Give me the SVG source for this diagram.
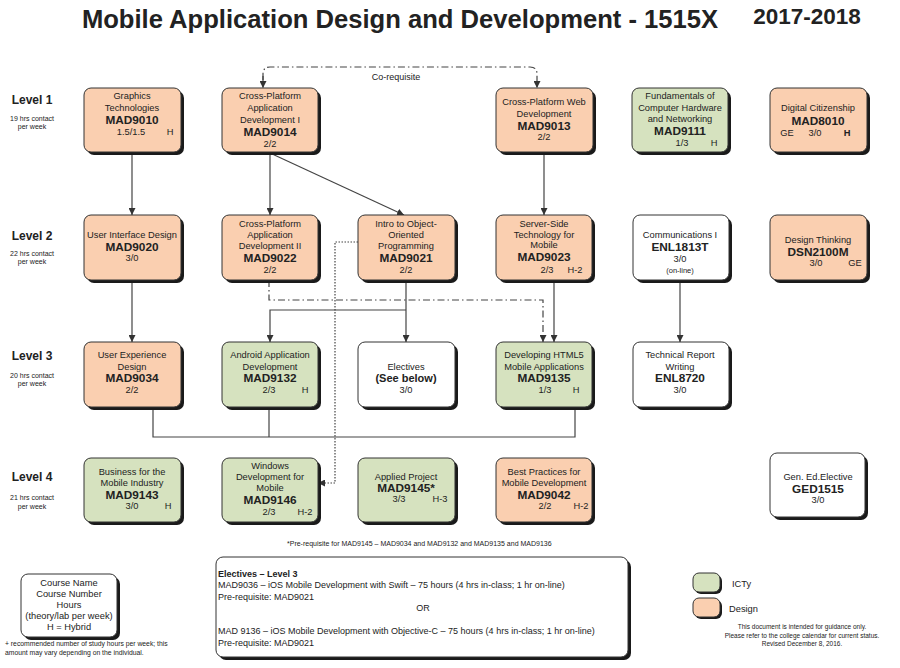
<svg xmlns="http://www.w3.org/2000/svg" width="900" height="668" viewBox="0 0 900 668">
<defs>
<marker id="ah" viewBox="0 0 8 8" refX="8" refY="4" markerWidth="7" markerHeight="7" markerUnits="userSpaceOnUse" orient="auto"><path d="M0,0 L8,4 L0,8 Z" fill="#333"/></marker>
</defs>
<style>
text{font-family:"Liberation Sans",Arial,sans-serif;fill:#222}
.t{font-size:9.3px;text-anchor:middle}
.b{font-size:11.8px;font-weight:bold;text-anchor:middle}
.s{font-size:7.5px;text-anchor:middle}
.lv{font-size:12px;font-weight:bold;text-anchor:middle}
.ls{font-size:7px;text-anchor:middle}
.sh{fill:#1a1a1a}
.box{stroke:#333;stroke-width:1}
.d{fill:#FACFB0}
.g{fill:#D6E2BF}
.w{fill:#fff}
.c{fill:none;stroke:#444;stroke-width:1.2}
.dd{stroke-dasharray:7,3,1.5,3}
.dt{stroke-dasharray:1.5,1.5}
</style>
<rect width="900" height="668" fill="#fff"/>
<text x="400" y="28" style="font-size:25.6px;font-weight:bold;text-anchor:middle">Mobile Application Design and Development - 1515X</text>
<text x="807" y="24" style="font-size:22.5px;font-weight:bold;text-anchor:middle">2017-2018</text>

<g id="levels">
<text class="lv" x="32" y="104">Level 1</text><text class="ls" x="32" y="121">19 hrs contact</text><text class="ls" x="32" y="129">per week</text>
<text class="lv" x="32" y="240">Level 2</text><text class="ls" x="32" y="256">22 hrs contact</text><text class="ls" x="32" y="264">per week</text>
<text class="lv" x="32" y="360">Level 3</text><text class="ls" x="32" y="378">20 hrs contact</text><text class="ls" x="32" y="386">per week</text>
<text class="lv" x="32" y="481">Level 4</text><text class="ls" x="32" y="500">21 hrs contact</text><text class="ls" x="32" y="509">per week</text>
</g>

<g id="connectors">
<path class="c" marker-end="url(#ah)" d="M132,153 V215"/>
<path class="c" marker-end="url(#ah)" d="M270,153 V215"/>
<path class="c" marker-end="url(#ah)" d="M270,153 L404,215"/>
<path class="c" marker-end="url(#ah)" d="M544,153 V215"/>
<path class="c" marker-end="url(#ah)" d="M132,280 V342"/>
<path class="c" marker-end="url(#ah)" d="M406,280 V342"/>
<path class="c" marker-end="url(#ah)" d="M406,310 H270 V342"/>
<path class="c" marker-end="url(#ah)" d="M554,280 V342"/>
<path class="c" marker-end="url(#ah)" d="M680,280 V342"/>
<path class="c" d="M153,407 V437 H575 V407 M269,407 V437"/>
<path class="c dd" marker-end="url(#ah)" d="M263,80 V74 Q263,67 270,67 H530 Q537,67 537,74 V88"/>
<path class="c dd" marker-end="url(#ah)" d="M263,76 V88"/>
<path class="c dd" marker-end="url(#ah)" d="M269,280 V300 H543 V342"/>
<path class="c dt" marker-end="url(#ah)" d="M358,242 H335 V483 H318"/>
<text x="396" y="80" style="font-size:9px;text-anchor:middle">Co-requisite</text>
</g>

<g id="MAD9010"><rect class="sh" x="87" y="91" width="97" height="64" rx="7"/><rect class="box d" x="84" y="88" width="97" height="64" rx="7"/>
<text class="t" x="132" y="99">Graphics</text><text class="t" x="132" y="111">Technologies</text><text class="b" x="132" y="124">MAD9010</text><text class="t" x="131" y="135">1.5/1.5</text><text class="t" x="170" y="135">H</text></g>

<g id="MAD9014"><rect class="sh" x="225" y="91" width="96" height="64" rx="7"/><rect class="box d" x="222" y="88" width="96" height="64" rx="7"/>
<text class="t" x="270" y="99">Cross-Platform</text><text class="t" x="270" y="111">Application</text><text class="t" x="270" y="123">Development I</text><text class="b" x="270" y="136">MAD9014</text><text class="t" x="270" y="147">2/2</text></g>

<g id="MAD9013"><rect class="sh" x="499" y="91" width="97" height="64" rx="7"/><rect class="box d" x="496" y="88" width="97" height="64" rx="7"/>
<text class="t" x="544" y="105">Cross-Platform Web</text><text class="t" x="544" y="117">Development</text><text class="b" x="544" y="130">MAD9013</text><text class="t" x="544" y="140">2/2</text></g>

<g id="MAD9111"><rect class="sh" x="635" y="91" width="96" height="64" rx="7"/><rect class="box g" x="632" y="88" width="96" height="64" rx="7"/>
<text class="t" x="680" y="99">Fundamentals of</text><text class="t" x="680" y="111">Computer Hardware</text><text class="t" x="680" y="122">and Networking</text><text class="b" x="680" y="135">MAD9111</text><text class="t" x="682" y="146">1/3</text><text class="t" x="714" y="146">H</text></g>

<g id="MAD8010"><rect class="sh" x="773" y="91" width="97" height="64" rx="7"/><rect class="box d" x="770" y="88" width="97" height="64" rx="7"/>
<text class="t" x="818" y="111">Digital Citizenship</text><text class="b" x="818" y="125">MAD8010</text><text class="t" x="787" y="136">GE</text><text class="t" x="815" y="136">3/0</text><text class="t" x="847" y="136" style="font-weight:bold">H</text></g>

<g id="MAD9020"><rect class="sh" x="87" y="218" width="97" height="65" rx="7"/><rect class="box d" x="84" y="215" width="97" height="65" rx="7"/>
<text class="t" x="132" y="238">User Interface Design</text><text class="b" x="132" y="251">MAD9020</text><text class="t" x="132" y="261">3/0</text></g>

<g id="MAD9022"><rect class="sh" x="225" y="218" width="96" height="65" rx="7"/><rect class="box d" x="222" y="215" width="96" height="65" rx="7"/>
<text class="t" x="270" y="227">Cross-Platform</text><text class="t" x="270" y="238">Application</text><text class="t" x="270" y="249">Development II</text><text class="b" x="270" y="262">MAD9022</text><text class="t" x="270" y="273">2/2</text></g>

<g id="MAD9021"><rect class="sh" x="361" y="218" width="97" height="65" rx="7"/><rect class="box d" x="358" y="215" width="97" height="65" rx="7"/>
<text class="t" x="406" y="227">Intro to Object-</text><text class="t" x="406" y="238">Oriented</text><text class="t" x="406" y="249">Programming</text><text class="b" x="406" y="262">MAD9021</text><text class="t" x="406" y="273">2/2</text></g>

<g id="MAD9023"><rect class="sh" x="499" y="218" width="96" height="65" rx="7"/><rect class="box d" x="496" y="215" width="96" height="65" rx="7"/>
<text class="t" x="544" y="227">Server-Side</text><text class="t" x="544" y="238">Technology for</text><text class="t" x="544" y="248">Mobile</text><text class="b" x="544" y="261">MAD9023</text><text class="t" x="547" y="273">2/3</text><text class="t" x="575" y="273">H-2</text></g>

<g id="ENL1813T"><rect class="sh" x="636" y="218" width="96" height="65" rx="7"/><rect class="box w" x="633" y="215" width="96" height="65" rx="7"/>
<text class="t" x="680" y="238">Communications I</text><text class="b" x="680" y="251">ENL1813T</text><text class="t" x="680" y="262">3/0</text><text class="s" x="680" y="273">(on-line)</text></g>

<g id="DSN2100M"><rect class="sh" x="773" y="218" width="97" height="65" rx="7"/><rect class="box d" x="770" y="215" width="97" height="65" rx="7"/>
<text class="t" x="818" y="243">Design Thinking</text><text class="b" x="818" y="256">DSN2100M</text><text class="t" x="816" y="266">3/0</text><text class="t" x="855" y="266">GE</text></g>

<g id="MAD9034"><rect class="sh" x="87" y="345" width="97" height="65" rx="7"/><rect class="box d" x="84" y="342" width="97" height="65" rx="7"/>
<text class="t" x="132" y="358">User Experience</text><text class="t" x="132" y="370">Design</text><text class="b" x="132" y="382">MAD9034</text><text class="t" x="132" y="393">2/2</text></g>

<g id="MAD9132"><rect class="sh" x="225" y="345" width="96" height="65" rx="7"/><rect class="box g" x="222" y="342" width="96" height="65" rx="7"/>
<text class="t" x="270" y="358">Android Application</text><text class="t" x="270" y="370">Development</text><text class="b" x="270" y="382">MAD9132</text><text class="t" x="269" y="393">2/3</text><text class="t" x="305" y="393">H</text></g>

<g id="Electives"><rect class="sh" x="361" y="345" width="97" height="65" rx="7"/><rect class="box w" x="358" y="342" width="97" height="65" rx="7"/>
<text class="t" x="406" y="370">Electives</text><text class="b" x="406" y="382" style="font-size:11px">(See below)</text><text class="t" x="406" y="393">3/0</text></g>

<g id="MAD9135"><rect class="sh" x="499" y="345" width="96" height="65" rx="7"/><rect class="box g" x="496" y="342" width="96" height="65" rx="7"/>
<text class="t" x="544" y="358">Developing HTML5</text><text class="t" x="544" y="370">Mobile Applications</text><text class="b" x="544" y="382">MAD9135</text><text class="t" x="545" y="393">1/3</text><text class="t" x="576" y="393">H</text></g>

<g id="ENL8720"><rect class="sh" x="636" y="345" width="96" height="65" rx="7"/><rect class="box w" x="633" y="342" width="96" height="65" rx="7"/>
<text class="t" x="680" y="358">Technical Report</text><text class="t" x="680" y="370">Writing</text><text class="b" x="680" y="382">ENL8720</text><text class="t" x="680" y="393">3/0</text></g>

<g id="MAD9143"><rect class="sh" x="87" y="461" width="97" height="64" rx="7"/><rect class="box g" x="84" y="458" width="97" height="64" rx="7"/>
<text class="t" x="132" y="475">Business for the</text><text class="t" x="132" y="486">Mobile Industry</text><text class="b" x="132" y="499">MAD9143</text><text class="t" x="132" y="509">3/0</text><text class="t" x="168" y="509">H</text></g>

<g id="MAD9146"><rect class="sh" x="225" y="461" width="96" height="64" rx="7"/><rect class="box g" x="222" y="458" width="96" height="64" rx="7"/>
<text class="t" x="270" y="469">Windows</text><text class="t" x="270" y="480">Development for</text><text class="t" x="270" y="491">Mobile</text><text class="b" x="270" y="504">MAD9146</text><text class="t" x="269" y="515">2/3</text><text class="t" x="305" y="515">H-2</text></g>

<g id="MAD9145"><rect class="sh" x="361" y="461" width="97" height="64" rx="7"/><rect class="box g" x="358" y="458" width="97" height="64" rx="7"/>
<text class="t" x="406" y="480">Applied Project</text><text class="b" x="406" y="492">MAD9145*</text><text class="t" x="399" y="502">3/3</text><text class="t" x="440" y="502">H-3</text></g>

<g id="MAD9042"><rect class="sh" x="499" y="461" width="96" height="64" rx="7"/><rect class="box d" x="496" y="458" width="96" height="64" rx="7"/>
<text class="t" x="544" y="475">Best Practices for</text><text class="t" x="544" y="486">Mobile Development</text><text class="b" x="544" y="499">MAD9042</text><text class="t" x="545" y="509">2/2</text><text class="t" x="581" y="509">H-2</text></g>

<g id="GED1515"><rect class="sh" x="773" y="456" width="95" height="64" rx="7"/><rect class="box w" x="770" y="453" width="95" height="64" rx="7"/>
<text class="t" x="818" y="480">Gen. Ed.Elective</text><text class="b" x="818" y="493">GED1515</text><text class="t" x="818" y="503">3/0</text></g>

<text x="287" y="546" style="font-size:7px">*Pre-requisite for MAD9145 – MAD9034 and MAD9132 and MAD9135 and MAD9136</text>

<g id="legend-course"><rect class="sh" x="24" y="577" width="96" height="63" rx="7"/><rect class="box w" x="21" y="574" width="96" height="63" rx="7"/>
<text class="t" x="69" y="586">Course Name</text><text class="t" x="69" y="597">Course Number</text><text class="t" x="69" y="608">Hours</text><text class="t" x="69" y="619">(theory/lab per week)</text><text class="t" x="69" y="630">H = Hybrid</text></g>
<text x="5" y="646" style="font-size:6.8px">+ recommended number of study hours per week; this</text>
<text x="5" y="655" style="font-size:6.8px">amount may vary depending on the individual.</text>

<g id="electives-box"><rect class="sh" x="219" y="560" width="412" height="100" rx="7"/><rect class="box w" x="216" y="557" width="412" height="100" rx="7"/>
<text x="218" y="577" style="font-size:9px;font-weight:bold">Electives – Level 3</text>
<text x="218" y="588" style="font-size:9px">MAD9036 – iOS Mobile Development with Swift – 75 hours (4 hrs in-class; 1 hr on-line)</text>
<text x="218" y="600" style="font-size:9px">Pre-requisite: MAD9021</text>
<text x="423" y="611" style="font-size:9px;text-anchor:middle">OR</text>
<text x="218" y="634" style="font-size:9px">MAD 9136 – iOS Mobile Development with Objective-C – 75 hours (4 hrs in-class; 1 hr on-line)</text>
<text x="218" y="646" style="font-size:9px">Pre-requisite: MAD9021</text></g>

<g id="legend-colours">
<rect class="sh" x="695" y="575" width="27" height="19" rx="6"/><rect class="box g" x="693" y="573" width="27" height="19" rx="6"/>
<text x="732" y="587" style="font-size:9.3px">ICTy</text>
<rect class="sh" x="695" y="600" width="27" height="19" rx="6"/><rect class="box d" x="693" y="598" width="27" height="19" rx="6"/>
<text x="729" y="612" style="font-size:9.3px">Design</text>
<text x="802" y="629" style="font-size:6.5px;text-anchor:middle">This document is intended for guidance only.</text>
<text x="802" y="638" style="font-size:6.5px;text-anchor:middle">Please refer to the college calendar for current status.</text>
<text x="802" y="646" style="font-size:6.5px;text-anchor:middle">Revised December 8, 2016.</text>
</g>
</svg>
